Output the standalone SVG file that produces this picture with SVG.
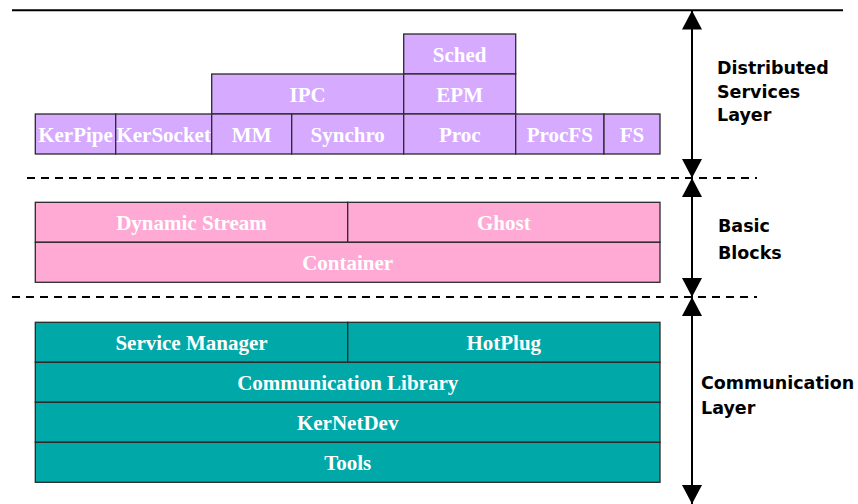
<svg xmlns="http://www.w3.org/2000/svg" width="858" height="504" viewBox="0 0 858 504">
  <style>
    .box { stroke: #2a2a2a; stroke-width: 1.3; }
    .ds { fill: #D6AAFF; }
    .bb { fill: #FFAAD4; }
    .cl { fill: #00A8A8; }
    .lbl { font-family: "Liberation Serif", "Times New Roman", serif; font-weight: bold; font-size: 21px; fill: #ffffff; text-anchor: middle; }
    .layer { font-family: "DejaVu Sans", "Noto Sans", sans-serif; font-weight: bold; font-size: 17.5px; fill: #000000; }
    .solid { stroke: #000; stroke-width: 2; fill: none; }
    .dash { stroke: #000; stroke-width: 2; stroke-dasharray: 8 6; fill: none; }
    .span { stroke: #000; stroke-width: 2; fill: none; marker-start: url(#tri); marker-end: url(#tri); }
  </style>
  <defs>
    <marker id="tri" viewBox="0 0 19 20" refX="19" refY="10" markerWidth="19" markerHeight="20" markerUnits="userSpaceOnUse" orient="auto-start-reverse">
      <path d="M0,0 L19,10 L0,20 Z" fill="#000"/>
    </marker>
  </defs>

  <rect width="858" height="504" fill="#ffffff"/>

  <!-- Distributed services layer -->
  <g id="sched"><rect class="box ds" x="403.7" y="34" width="112" height="40"/><text class="lbl" x="459.7" y="61.5">Sched</text></g>
  <g id="ipc"><rect class="box ds" x="211.7" y="74" width="192" height="40"/><text class="lbl" x="307.7" y="101.5">IPC</text></g>
  <g id="epm"><rect class="box ds" x="403.7" y="74" width="112" height="40"/><text class="lbl" x="459.7" y="101.5">EPM</text></g>
  <g id="kerpipe"><rect class="box ds" x="35.3" y="114" width="80.4" height="40"/><text class="lbl" x="75.5" y="141.5">KerPipe</text></g>
  <g id="kersocket"><rect class="box ds" x="115.7" y="114" width="96" height="40"/><text class="lbl" x="163.7" y="141.5">KerSocket</text></g>
  <g id="mm"><rect class="box ds" x="211.7" y="114" width="80" height="40"/><text class="lbl" x="251.7" y="141.5">MM</text></g>
  <g id="synchro"><rect class="box ds" x="291.7" y="114" width="112" height="40"/><text class="lbl" x="347.7" y="141.5">Synchro</text></g>
  <g id="proc"><rect class="box ds" x="403.7" y="114" width="112" height="40"/><text class="lbl" x="459.7" y="141.5">Proc</text></g>
  <g id="procfs"><rect class="box ds" x="515.7" y="114" width="88.3" height="40"/><text class="lbl" x="559.8" y="141.5">ProcFS</text></g>
  <g id="fs"><rect class="box ds" x="604" y="114" width="56" height="40"/><text class="lbl" x="632" y="141.5">FS</text></g>

  <!-- Basic blocks -->
  <g id="dynamic-stream"><rect class="box bb" x="35.3" y="202.3" width="312.4" height="40"/><text class="lbl" x="191.5" y="229.8">Dynamic Stream</text></g>
  <g id="ghost"><rect class="box bb" x="347.7" y="202.3" width="312.3" height="40"/><text class="lbl" x="503.8" y="229.8">Ghost</text></g>
  <g id="container"><rect class="box bb" x="35.3" y="242.3" width="624.7" height="40"/><text class="lbl" x="347.7" y="269.8">Container</text></g>

  <!-- Communication layer -->
  <g id="service-manager"><rect class="box cl" x="35.3" y="322.3" width="312.4" height="40"/><text class="lbl" x="191.5" y="349.8">Service Manager</text></g>
  <g id="hotplug"><rect class="box cl" x="347.7" y="322.3" width="312.3" height="40"/><text class="lbl" x="503.8" y="349.8">HotPlug</text></g>
  <g id="communication-library"><rect class="box cl" x="35.3" y="362.3" width="624.7" height="40"/><text class="lbl" x="347.7" y="389.8">Communication Library</text></g>
  <g id="kernetdev"><rect class="box cl" x="35.3" y="402.3" width="624.7" height="40"/><text class="lbl" x="347.7" y="429.8">KerNetDev</text></g>
  <g id="tools"><rect class="box cl" x="35.3" y="442.3" width="624.7" height="40"/><text class="lbl" x="347.7" y="469.8">Tools</text></g>

  <!-- layer captions -->
  <g id="label-distributed">
    <text class="layer" x="717" y="74">Distributed</text>
    <text class="layer" x="717" y="97.5">Services</text>
    <text class="layer" x="717" y="121">Layer</text>
  </g>
  <g id="label-basic">
    <text class="layer" x="718" y="231.5">Basic</text>
    <text class="layer" x="718" y="258.5">Blocks</text>
  </g>
  <g id="label-communication">
    <text class="layer" x="701" y="388.5">Communication</text>
    <text class="layer" x="701" y="413.5">Layer</text>
  </g>

  <!-- separators and extent arrows -->
  <g id="connectors">
    <line class="solid" x1="12" y1="10.3" x2="843" y2="10.3"/>
    <line class="dash" x1="27" y1="178" x2="757" y2="178"/>
    <line class="dash" x1="12" y1="297" x2="757" y2="297"/>
    <line class="span" x1="692" y1="10.5" x2="692" y2="178"/>
    <line class="span" x1="692" y1="178" x2="692" y2="297"/>
    <line class="span" x1="692" y1="297" x2="692" y2="504"/>
  </g>
</svg>
